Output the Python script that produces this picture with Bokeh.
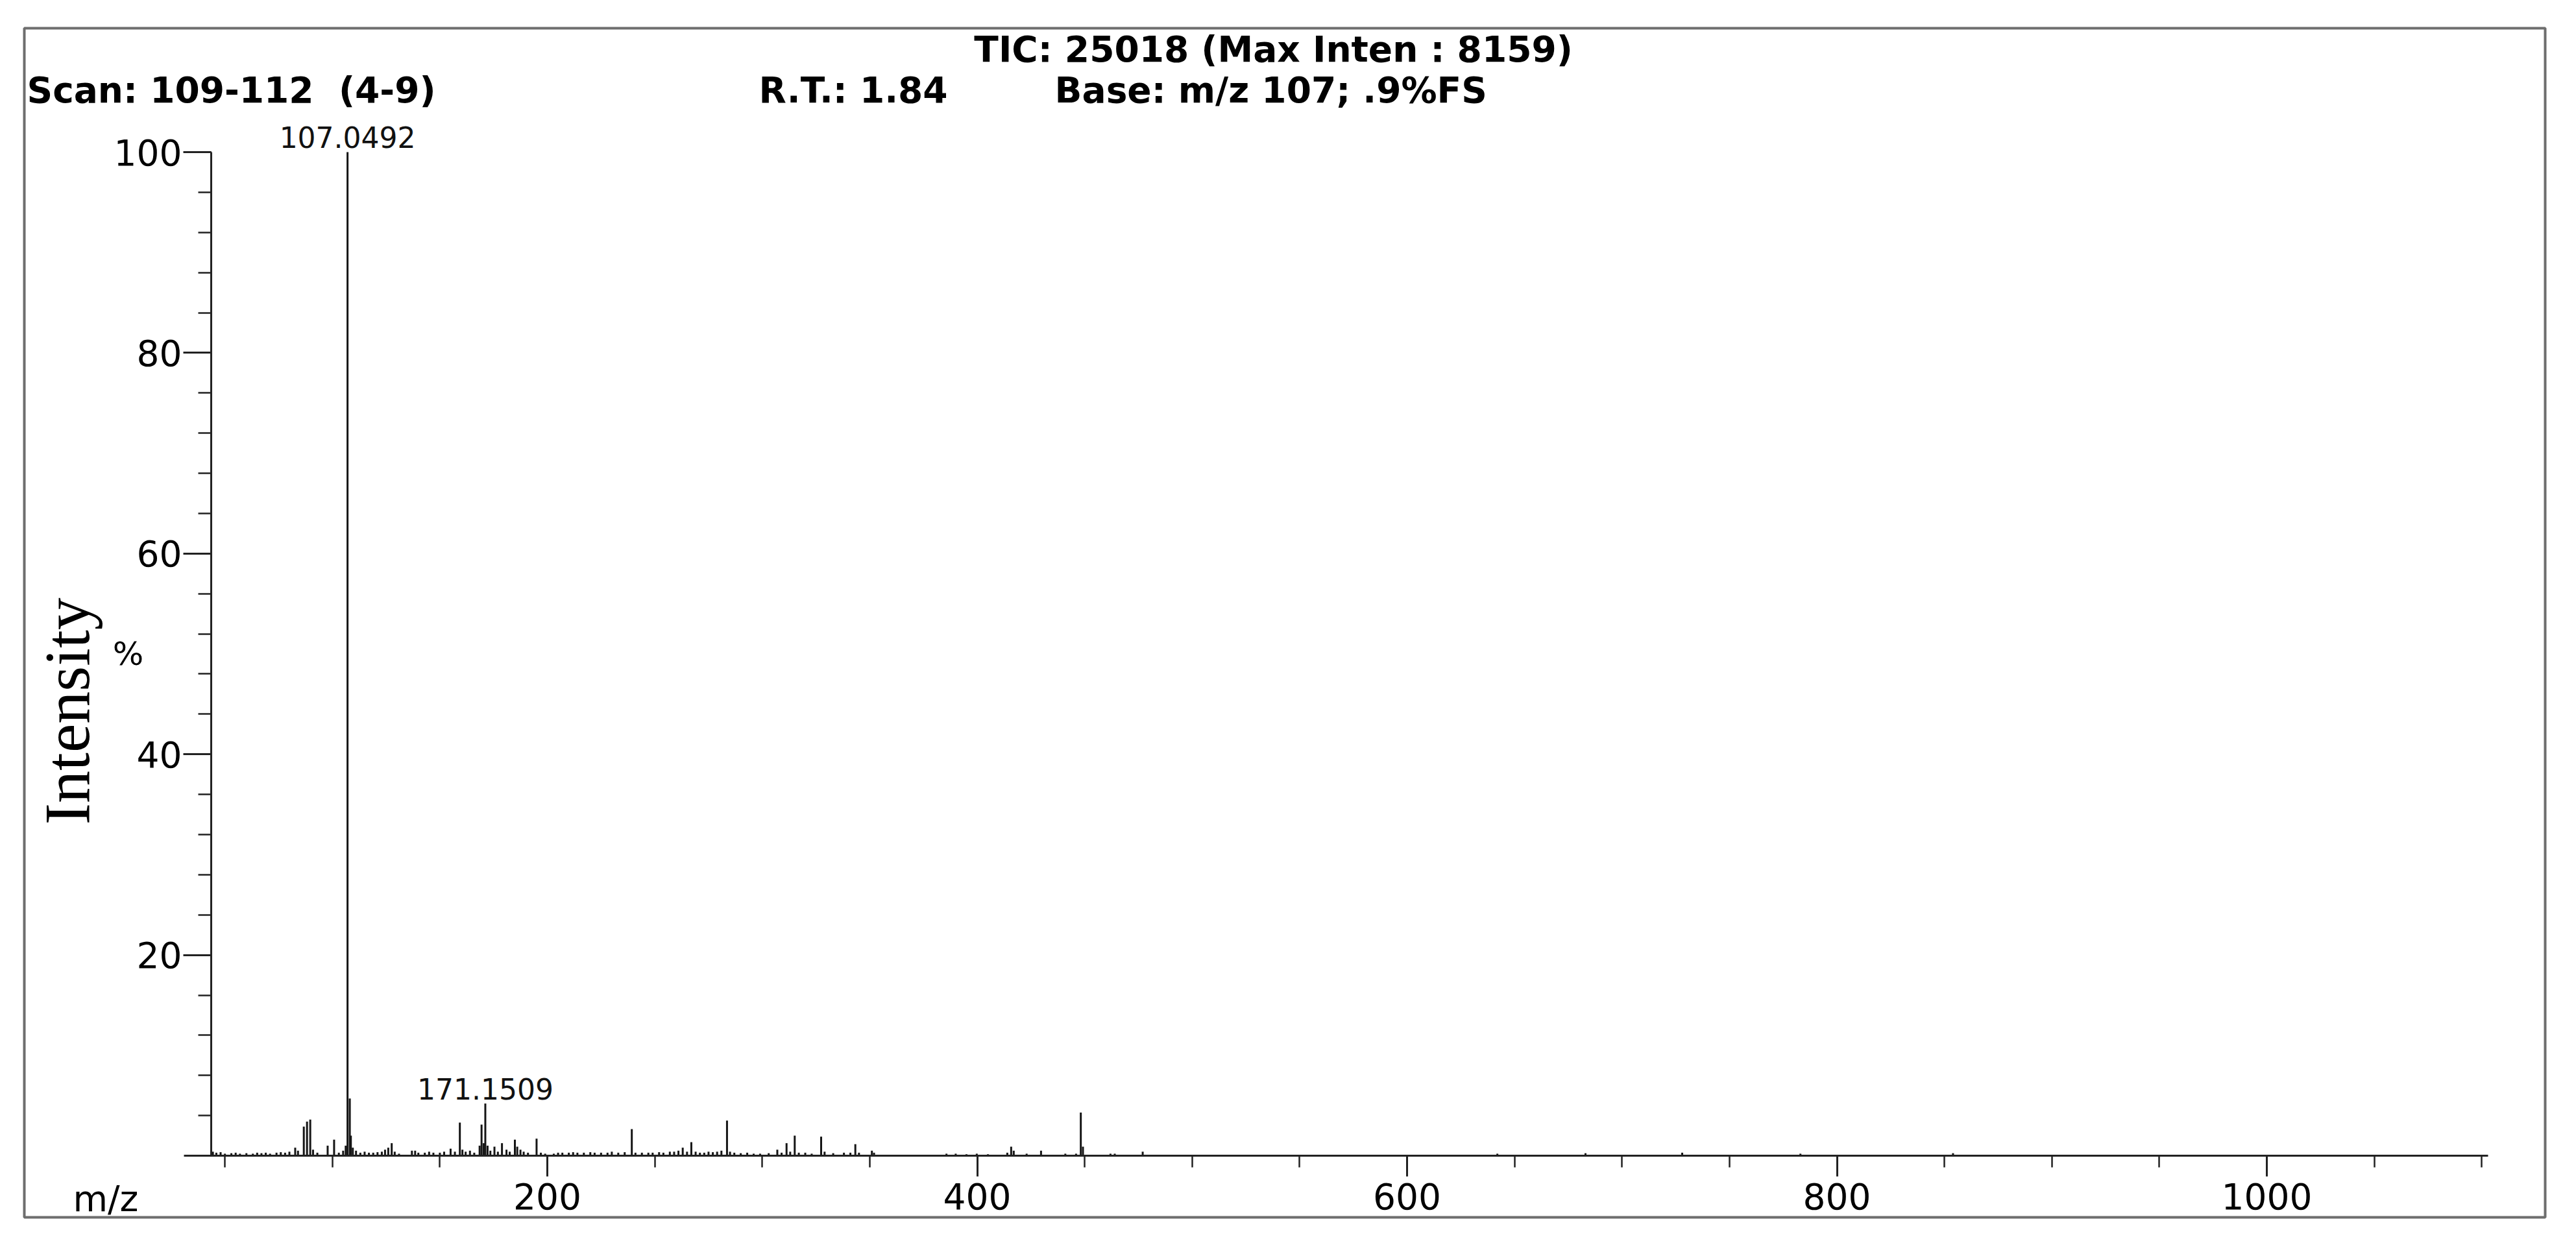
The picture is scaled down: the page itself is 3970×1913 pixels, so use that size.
import math
from bokeh.plotting import figure
from bokeh.models import LinearAxis, Label, FixedTicker, Range1d, ColumnDataSource
from bokeh.embed import file_html
from bokeh.resources import INLINE
from bokeh.core.properties import value

# ---- data ----
mz = [44.4, 46, 48, 50, 53, 55, 57, 60, 63, 65, 67, 69, 71, 74, 76, 78, 80, 82.7, 84,
      86.7, 88.2, 89.7, 91, 93, 97.8, 100.8, 103, 105, 106.2, 107.0492, 108.1, 108.6,
      109.5, 111, 113, 115, 117, 119, 121, 123, 124.5, 126, 127.6, 129, 131, 137, 138.5,
      140, 143, 145, 147, 150, 152, 155, 157, 159.3, 160.5, 162, 164, 166, 168.5, 169.4,
      170.4, 171.1509, 172.2, 173.5, 175.4, 177, 178.9, 181, 182.5, 184.9, 186, 187.5, 189,
      191, 195, 197, 199, 203, 205, 207, 210, 212, 214, 217, 220, 222, 225, 228, 230, 233,
      236, 239.3, 241, 244, 247, 249, 252, 254, 257, 259, 261, 263, 265, 267, 269, 271,
      273, 275, 277, 279, 281, 283.6, 285, 287, 290, 293, 296, 299, 303, 307, 309, 311.3,
      313, 315.1, 317, 320, 323, 327.4, 329, 333, 338, 341, 343.3, 345, 351, 352, 385.7,
      390, 395, 399.8, 405, 414, 415.8, 417, 423, 429.7, 441, 446, 448.2, 449.2, 462, 464,
      477, 642, 683, 728, 783, 854]
intensity = [0.4, 0.3, 0.35, 0.2, 0.25, 0.3, 0.2, 0.25, 0.2, 0.3, 0.25, 0.3, 0.2, 0.3, 0.35,
             0.3, 0.4, 0.8, 0.5, 2.9, 3.4, 3.6, 0.6, 0.3, 1.0, 1.6, 0.3, 0.5, 1.0, 100, 5.7,
             2.0, 0.8, 0.5, 0.3, 0.4, 0.3, 0.3, 0.35, 0.4, 0.6, 0.8, 1.25, 0.4, 0.2, 0.5, 0.5,
             0.3, 0.3, 0.4, 0.3, 0.3, 0.4, 0.7, 0.4, 3.3, 0.6, 0.4, 0.5, 0.3, 1.0, 3.1, 1.25,
             5.2, 1.0, 0.5, 0.9, 0.4, 1.25, 0.6, 0.4, 1.6, 0.9, 0.6, 0.4, 0.3, 1.7, 0.3, 0.2,
             0.2, 0.3, 0.3, 0.3, 0.35, 0.3, 0.3, 0.35, 0.3, 0.3, 0.3, 0.4, 0.3, 0.35, 2.65,
             0.3, 0.3, 0.3, 0.3, 0.35, 0.3, 0.4, 0.4, 0.5, 0.8, 0.4, 1.35, 0.4, 0.3, 0.3, 0.4,
             0.35, 0.4, 0.5, 3.5, 0.4, 0.3, 0.25, 0.3, 0.2, 0.2, 0.25, 0.6, 0.3, 1.25, 0.4,
             2.0, 0.3, 0.3, 0.2, 1.9, 0.4, 0.25, 0.3, 0.3, 1.15, 0.3, 0.5, 0.3, 0.2, 0.2, 0.15,
             0.2, 0.15, 0.3, 0.9, 0.5, 0.2, 0.5, 0.2, 0.2, 4.3, 0.9, 0.2, 0.2, 0.4, 0.2, 0.25,
             0.3, 0.2, 0.25]
annot_mz = [107.0492, 171.1509]
annot_int = [100, 5.2]
annot_text = ["107.0492", "171.1509"]
x_major = [200, 400, 600, 800, 1000]
x_minor = list(range(50, 1101, 50))
y_major = [20, 40, 60, 80, 100]
y_minor = list(range(0, 101, 4))

header_tic = "TIC: 25018 (Max Inten : 8159)"
header_scan = "Scan: 109-112\u00a0 (4-9)"
header_rt = "R.T.: 1.84"
header_base = "Base: m/z 107; .9%FS"

W, H = 3950, 1900
p = figure(width=W, height=H, output_backend="svg", toolbar_location=None,
           x_range=Range1d(-43.32, 1129.5), y_range=Range1d(-6.14, 112.35),
           x_axis_location=None, y_axis_location=None,
           min_border_left=37, min_border_top=43, min_border_right=28, min_border_bottom=24)
p.grid.visible = False
p.outline_line_color = "#6e6e6e"
p.outline_line_width = 4
p.background_fill_color = "white"
p.border_fill_color = "white"

src = ColumnDataSource(dict(mz=mz, inten=intensity, zero=[0] * len(mz)))
p.segment(x0="mz", y0="zero", x1="mz", y1="inten", source=src,
          line_width=3, line_color="#151515")

font = "DejaVu Sans"

xaxis = LinearAxis(fixed_location=0, bounds=(30.9, 1102.9),
                   ticker=FixedTicker(ticks=x_major, minor_ticks=x_minor))
xaxis.axis_line_color = "#222222"
xaxis.axis_line_width = 3
xaxis.major_tick_line_width = 3
xaxis.minor_tick_line_width = 2.5
xaxis.major_tick_line_color = "#222222"
xaxis.minor_tick_line_color = "#222222"
xaxis.major_tick_in = 0
xaxis.major_tick_out = 32
xaxis.minor_tick_in = 0
xaxis.minor_tick_out = 18
xaxis.major_label_text_font = font
xaxis.major_label_text_font_size = "55px"
xaxis.major_label_text_color = "black"
xaxis.major_label_standoff = 10
p.add_layout(xaxis, "below")

yaxis = LinearAxis(fixed_location=43.6, bounds=(0, 100),
                   ticker=FixedTicker(ticks=y_major, minor_ticks=y_minor))
yaxis.axis_line_color = "#222222"
yaxis.axis_line_width = 3
yaxis.major_tick_line_width = 3
yaxis.minor_tick_line_width = 2.5
yaxis.major_tick_line_color = "#222222"
yaxis.minor_tick_line_color = "#222222"
yaxis.major_tick_in = 0
yaxis.major_tick_out = 43
yaxis.minor_tick_in = 0
yaxis.minor_tick_out = 20
yaxis.major_label_text_font = font
yaxis.major_label_text_font_size = "55px"
yaxis.major_label_text_color = "black"
yaxis.major_label_standoff = 2
yaxis.major_label_orientation = "horizontal"
p.add_layout(yaxis, "left")

# peak annotations (negative y_offset lifts the text above the peak top)
p.text(x=annot_mz, y=annot_int, text=annot_text, y_offset=-23,
       text_align="center", text_baseline="middle",
       text_font=value(font), text_font_size="44px", text_color="#111111")

def hdr(x, y, t, bold=True, size="55px", align="left", f=font, angle=0.0):
    p.add_layout(Label(x=x, y=y, text=t, text_font=f, text_font_size=size,
                       text_font_style="bold" if bold else "normal",
                       text_align=align, text_baseline="middle",
                       text_color="black", angle=angle))

hdr(398.6, 110.25, header_tic)
hdr(-42.1, 106.2, header_scan)
hdr(298.4, 106.2, header_rt)
hdr(436.1, 106.2, header_base)
hdr(-20.7, -4.3, "m/z", bold=False, size="55px")
hdr(5.0, 50.0, "%", bold=False, size="50px", align="center")
hdr(-23.5, 44.3, "Intensity", bold=False, size="100px", align="center",
    f="Liberation Serif", angle=math.pi / 2)

open("out.html", "w").write(file_html(p, INLINE))
